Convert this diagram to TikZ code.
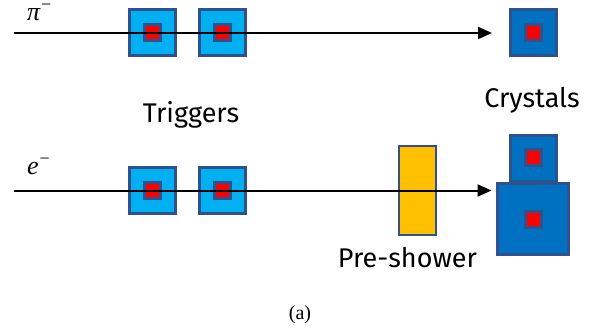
\documentclass[tikz,border=0pt]{standalone}
\usepackage{fontspec}
\setmainfont{Liberation Serif}
\newfontfamily\labelfont{Fira Sans}
\newfontfamily\symfont{Liberation Serif}
\usetikzlibrary{arrows.meta}
\definecolor{frameblue}{HTML}{2F528F}
\definecolor{lightblue}{HTML}{00B0F0}
\definecolor{crysblue}{HTML}{0070C0}
\definecolor{preorange}{HTML}{FFC000}
\definecolor{corered}{HTML}{FF0000}
\newcommand{\supminus}{\smash{\raisebox{10pt}{\fontsize{18}{18}\selectfont\upshape −}}}
\tikzset{
  trigbox/.style={draw=frameblue, fill=lightblue, line width=3pt, minimum size=46pt, inner sep=0pt, outer sep=0pt},
  crysbox/.style={draw=frameblue, fill=crysblue, line width=3pt, minimum size=46pt, inner sep=0pt, outer sep=0pt},
  bigcrys/.style={draw=frameblue, fill=crysblue, line width=3pt, minimum size=71pt, inner sep=0pt, outer sep=0pt},
  core/.style={draw=frameblue, fill=corered, line width=3pt, minimum size=16pt, inner sep=0pt, outer sep=0pt},
  preshower/.style={draw=frameblue, fill=preorange, line width=2pt, minimum width=37pt, minimum height=89pt, inner sep=0pt, outer sep=0pt},
  beam/.style={line width=2pt, -{Triangle[length=14pt,width=12pt]}},
  lbl/.style={font=\labelfont\fontsize{27}{30}\selectfont, inner sep=0pt, anchor=base},
  particle/.style={font=\symfont\itshape\fontsize{26}{28}\selectfont, inner sep=0pt, anchor=base west}
}
\begin{document}
\begin{tikzpicture}[x=1pt,y=-1pt]
\useasboundingbox (0,0) rectangle (595,329);
% top row
\node[trigbox] (t1) at (152.5,33) {};
\node[core] (c1) at (152.5,33) {};
\node[trigbox] (t2) at (222,33) {};
\node[core] (c2) at (222,33) {};
\node[crysbox] (k1) at (533,33) {};
\node[core] (kc1) at (533,33) {};
\coordinate (s1) at (14,33);
\draw[beam, shorten >=18pt] (s1) -- (k1.west);
\node[particle] (pi) at (27,20.5) {π\kern1pt\supminus};
% labels
\node[lbl] (trig) at (191,123) {Triggers};
\node[lbl] (crys) at (532,108) {Crystals};
% bottom row
\node[trigbox] (t3) at (152.5,190.5) {};
\node[core] (c3) at (152.5,190.5) {};
\node[trigbox] (t4) at (222,190.5) {};
\node[core] (c4) at (222,190.5) {};
\node[preshower] (ps) at (417.5,190.5) {};
\node[crysbox] (k2) at (533,158) {};
\node[core] (kc2) at (533,157.5) {};
\node[bigcrys] (k3) at (533,219) {};
\node[core] (kc3) at (533,219) {};
\coordinate (s2) at (14,190.5);
\draw[beam, shorten >=6pt] (s2) -- (s2 -| k3.west);
\node[particle] (e) at (27,175) {e\kern1pt\supminus};
\node[lbl] (pre) at (407.5,267) {Pre-shower};
\node[font=\fontsize{20}{24}\selectfont, inner sep=0pt, anchor=base] (cap) at (300,319) {(a)};
\end{tikzpicture}
\end{document}
